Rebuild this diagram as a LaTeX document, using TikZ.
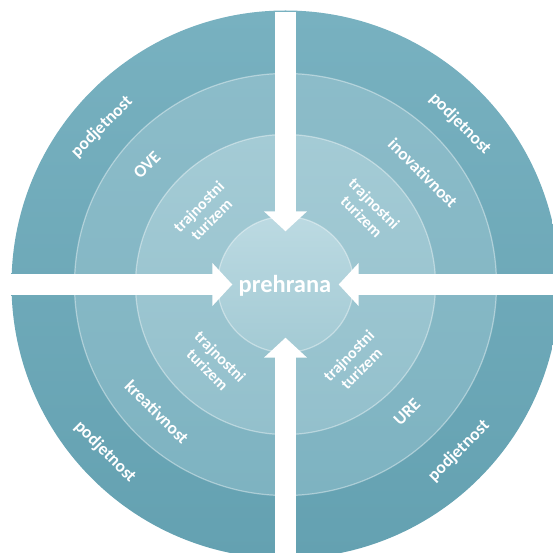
\documentclass[tikz,border=0pt]{standalone}
\usepackage{fontspec}
\setmainfont{Carlito}
\usetikzlibrary{arrows.meta}
\definecolor{ringA1}{HTML}{78B1C0}
\definecolor{ringA2}{HTML}{64A1B1}
\definecolor{ringB1}{HTML}{8CBCC9}
\definecolor{ringB2}{HTML}{7EB3C1}
\definecolor{ringC1}{HTML}{A4CBD5}
\definecolor{ringC2}{HTML}{93C0CC}
\definecolor{hubA}{HTML}{BCDAE2}
\definecolor{hubB}{HTML}{A3CAD4}
\tikzset{
  ringline/.style={draw=white, draw opacity=0.4, line width=1.2pt},
  lbl/.style={text=white, font=\bfseries\fontsize{17.5}{19}\selectfont, inner sep=0pt},
  lblsmall/.style={text=white, font=\bfseries\fontsize{16}{18}\selectfont, align=center, inner sep=0pt},
  bigarrow/.style={draw=white, line width=20.5pt, -{Triangle[width=42pt,length=20pt]}},
}
\begin{document}
\begin{tikzpicture}[x=1pt,y=-1pt]
\useasboundingbox (0,0) rectangle (553,553);
\clip (0,0) rectangle (553,553);
\coordinate (c) at (285.5,284.5);
% rings
\shade[top color=ringA1, bottom color=ringA2] (c) circle[radius=274];
\shade[top color=ringB1, bottom color=ringB2, ringline] (c) circle[radius=211];
\shade[top color=ringC1, bottom color=ringC2, ringline] (c) circle[radius=150];
\shade[top color=hubA, bottom color=hubB, ringline] (c) circle[radius=68];
% hub node (arrow targets)
\node[circle, minimum size=106pt, inner sep=0pt, draw=none] (hub) at (c) {};
\node[text=white, font=\bfseries\fontsize{24.5}{26}\selectfont, inner sep=0pt] (prehrana) at (285,286) {prehrana};
% arrow start points
\coordinate (atop) at (285.5,12);
\coordinate (aleft) at (10,284.5);
\coordinate (aright) at (560,284.5);
\coordinate (abottom) at (285.5,560);
\draw[bigarrow] (atop) -- (hub.north);
\draw[bigarrow] (aleft) -- (hub.west);
\draw[bigarrow] (aright) -- (hub.east);
\draw[bigarrow] (abottom) -- (hub.south);
% top-left
\node[lbl, rotate=45] (tlp) at (102,127) {podjetnost};
\node[lbl, rotate=45] (tlo) at (147,165) {OVE};
\node[lblsmall, rotate=45] (tlt) at (205,213) {trajnostni\\turizem};
% top-right
\node[lbl, rotate=-45] (trp) at (460,124) {podjetnost};
\node[lbl, rotate=-45] (tri) at (423,173) {inovativnost};
\node[lblsmall, rotate=-45] (trt) at (368,210) {trajnostni\\turizem};
% bottom-left
\node[lblsmall, rotate=-45] (blt) at (214,363) {trajnostni\\turizem};
\node[lbl, rotate=-45] (blk) at (157,412) {kreativnost};
\node[lbl, rotate=-45] (blp) at (105,452) {podjetnost};
% bottom-right
\node[lblsmall, rotate=45] (brt) at (355,362) {trajnostni\\turizem};
\node[lbl, rotate=45] (bru) at (407,412) {URE};
\node[lbl, rotate=45] (brp) at (459,451) {podjetnost};
\end{tikzpicture}
\end{document}
